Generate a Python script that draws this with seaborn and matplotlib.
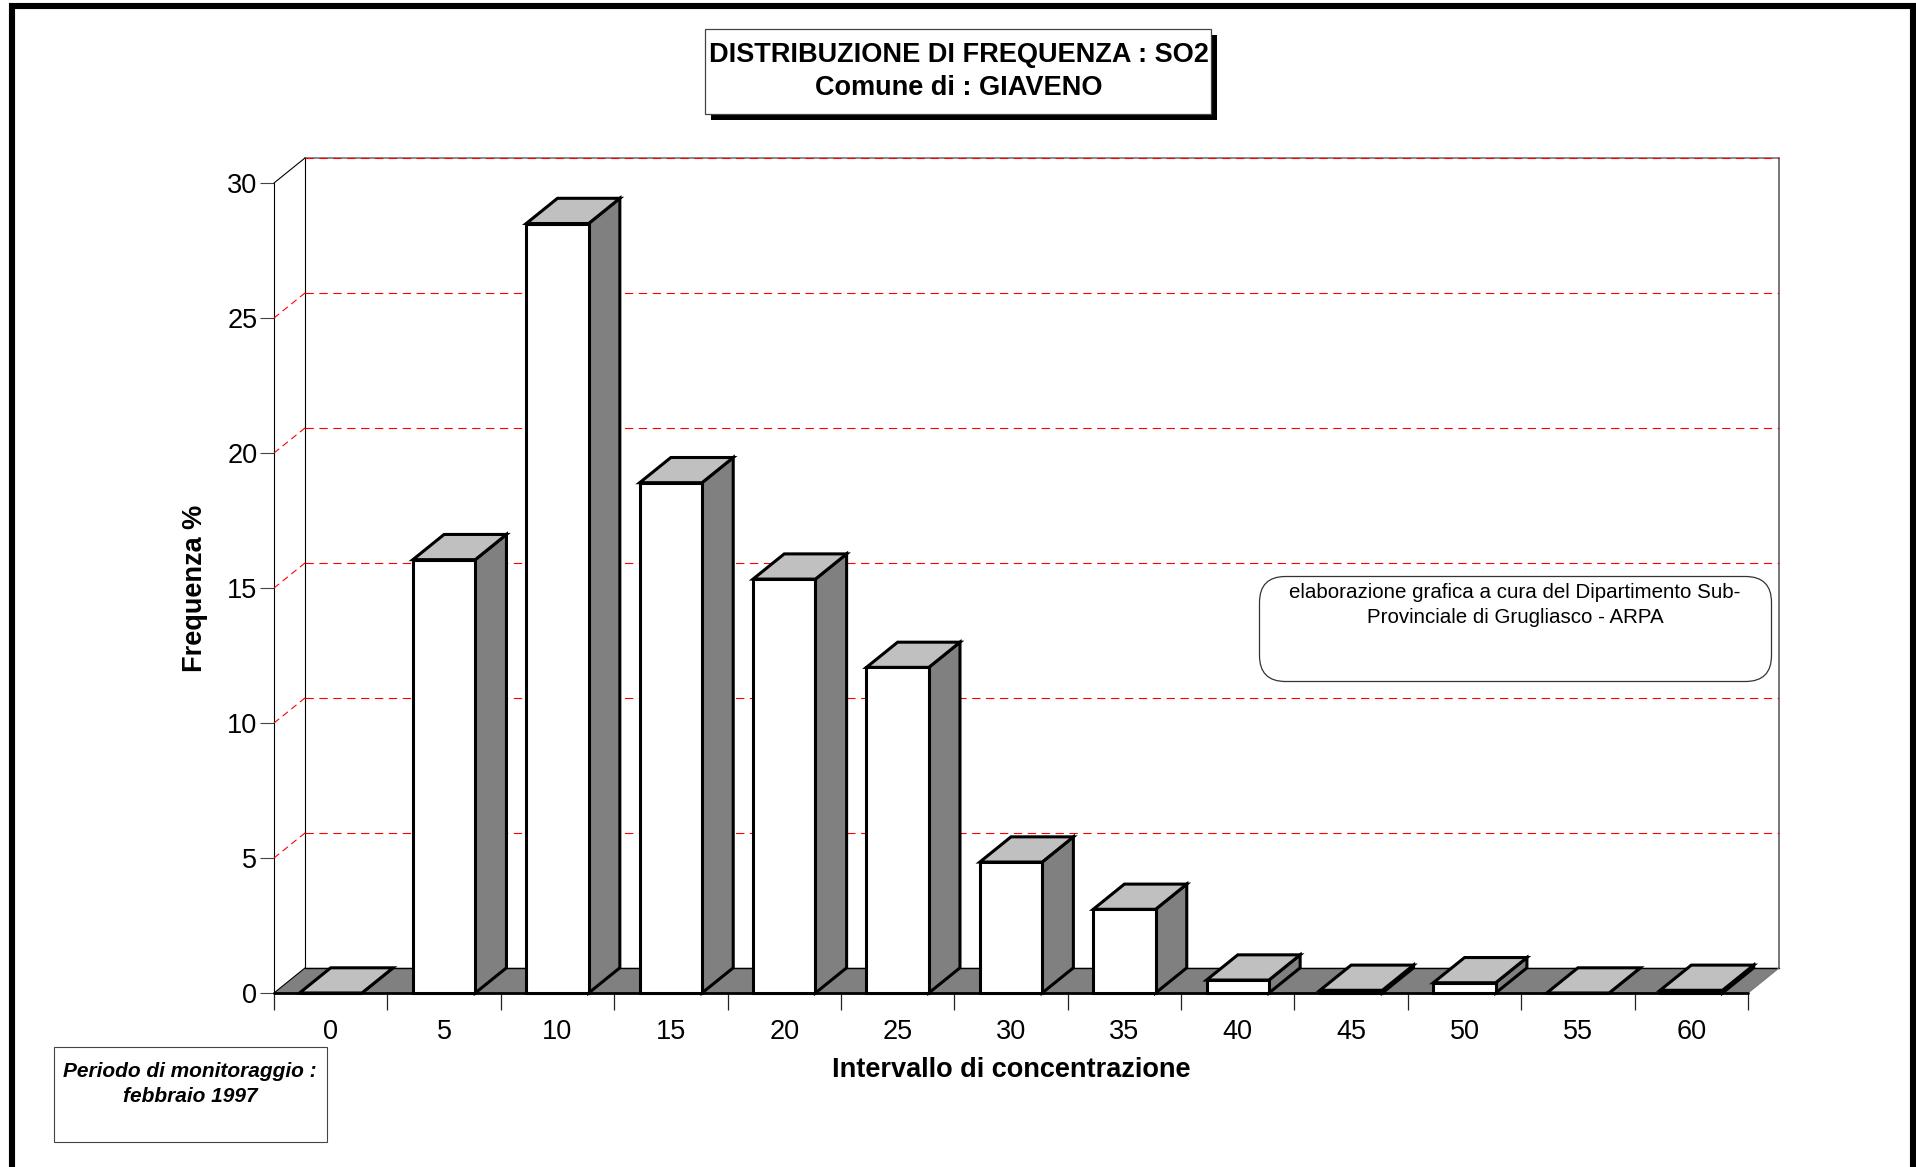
import numpy as np
import pandas as pd
import seaborn as sns
import matplotlib
matplotlib.use("Agg")
import matplotlib.pyplot as plt
from matplotlib.patches import Rectangle, FancyBboxPatch
from matplotlib.transforms import IdentityTransform

# ---- data
intervals = ["0", "5", "10", "15", "20", "25", "30", "35", "40", "45", "50", "55", "60"]
frequency = [0.0, 16.05, 28.5, 18.9, 15.33, 12.06, 4.85, 3.1, 0.48, 0.1, 0.38, 0.0, 0.1]
y_ticks = [0, 5, 10, 15, 20, 25, 30]
title_lines = "DISTRIBUZIONE DI FREQUENZA : SO2\nComune di : GIAVENO"
note_text = "elaborazione grafica a cura del Dipartimento Sub-\nProvinciale di Grugliasco - ARPA"
period_text = "Periodo di monitoraggio :\nfebbraio 1997"

# ---- style / layout
W, H = 1916, 1167
AX_L, AX_R, AX_T, AX_B = 274, 1748, 183, 993
DEPTH_PX = (31.2, 25.2)
sns.set_theme(style="white")
plt.rcParams["font.family"] = ["Liberation Sans", "DejaVu Sans"]
plt.rcParams["text.color"] = "black"
plt.rcParams["axes.labelcolor"] = "black"

fig = plt.figure(figsize=(W / 100, H / 100), dpi=100, facecolor="white")
ax = fig.add_axes([AX_L / W, 1 - AX_B / H, (AX_R - AX_L) / W, (AX_B - AX_T) / H])
ax.patch.set_alpha(0)

df = pd.DataFrame({"interval": intervals, "freq": frequency})
sns.barplot(data=df, x="interval", y="freq", order=intervals, color="white", saturation=1,
            width=0.55, edgecolor="black", linewidth=2.2, ax=ax, zorder=6, clip_on=False)
bars = list(ax.patches)
ax.set_xlim(-0.5, len(intervals) - 0.5)
ax.set_ylim(0, 30)
DX = DEPTH_PX[0] / ((AX_R - AX_L) / len(intervals))
DY = DEPTH_PX[1] / ((AX_B - AX_T) / 30)
x0, x1 = -0.5, len(intervals) - 0.5

# floor
ax.fill([x0, x1, x1 + DX, x0 + DX], [0, 0, DY, DY], color="#808080", lw=0, zorder=1, clip_on=False)
# walls
ax.plot([x0 + DX, x1 + DX], [30 + DY, 30 + DY], color="#777777", lw=1.2, zorder=2, clip_on=False)
ax.plot([x1 + DX, x1 + DX], [DY, 30 + DY], color="#777777", lw=1.4, zorder=2, clip_on=False)
ax.plot([x0 + DX, x0 + DX], [DY, 30 + DY], color="black", lw=0.8, zorder=2, clip_on=False)
ax.plot([x0, x0], [0, 30], color="black", lw=0.8, zorder=2, clip_on=False)
ax.plot([x0, x0 + DX], [30, 30 + DY], color="black", lw=0.8, zorder=2, clip_on=False)
ax.plot([x0 + DX, x1 + DX], [DY, DY], color="black", lw=1.0, zorder=2, clip_on=False)
ax.plot([x1, x1 + DX], [0, DY], color="#777777", lw=0.8, zorder=2, clip_on=False)
ax.plot([x0, x0 + DX], [0, DY], color="black", lw=0.8, zorder=2, clip_on=False)

# grid on the back and left walls
dash = (0, (7.5, 5))
for v in y_ticks[1:]:
    ax.plot([x0 + DX, x1 + DX], [v + DY, v + DY], color="#ff0000", lw=0.8, ls=dash, zorder=3, clip_on=False)
    if v < 30:
        ax.plot([x0, x0 + DX], [v, v + DY], color="#ff0000", lw=0.8, ls=(0, (6, 4)), zorder=3, clip_on=False)

# 3-D faces of the bars, derived from seaborn's own bars
for bar in bars:
    bx, bw, h = bar.get_x(), bar.get_width(), bar.get_height()
    bar.set_joinstyle("miter")
    ax.fill([bx + bw, bx + bw + DX, bx + bw + DX, bx + bw], [0, DY, h + DY, h], facecolor="#808080",
            edgecolor="black", lw=2.2, zorder=5, clip_on=False, joinstyle="miter")
    ax.fill([bx, bx + bw, bx + bw + DX, bx + DX], [h, h, h + DY, h + DY], facecolor="#c0c0c0",
            edgecolor="black", lw=2.2, zorder=5, clip_on=False, joinstyle="miter")

# axes
for s in ax.spines.values():
    s.set_visible(False)
ax.plot([x0, x1], [0, 0], color="black", lw=2.0, zorder=4, clip_on=False)
ax.set_yticks(y_ticks)
ax.set_yticklabels([str(v) for v in y_ticks], fontsize=19.5)
ax.set_xticks(range(len(intervals)))
ax.set_xticklabels(intervals, fontsize=19.5)
ax.set_xticks(np.arange(x0, x1 + 1), minor=True)
ax.tick_params(axis="x", which="major", length=0, pad=18.5, colors="black")
ax.tick_params(axis="x", which="minor", length=12, width=0.9, color="#222222", bottom=True)
ax.tick_params(axis="y", which="major", length=10, width=0.8, color="#444444", pad=2, left=True, colors="black")
ax.set_xlabel("Intervallo di concentrazione", fontsize=19.5, fontweight="bold", labelpad=9)
ax.set_ylabel("Frequenza %", fontsize=19.5, fontweight="bold", labelpad=13.5)
ax.grid(False)

# ---- page furniture, in pixels
ident = IdentityTransform()
def rect(l, t, r, b, **kw):
    fig.add_artist(Rectangle((l, H - b), r - l, b - t, transform=ident, **kw))

# outer frame
rect(11.5, 6, 1912.5, H + 40, facecolor="none", edgecolor="black", lw=4.4, zorder=0)

# title box
rect(711, 35, 1217, 119.5, facecolor="black", edgecolor="black", lw=0, zorder=7)
rect(704.5, 28.5, 1210.5, 113.5, facecolor="white", edgecolor="#444444", lw=0.9, zorder=8)
fig.text(958.5, H - 71.5, title_lines, transform=ident, ha="center", va="center", fontsize=19.5,
         fontweight="bold", linespacing=1.37, zorder=9)

# period box
rect(53.5, 1046.5, 326.5, 1141.5, facecolor="white", edgecolor="#444444", lw=0.8, zorder=8)
fig.text(190, H - 1084, period_text, transform=ident, ha="center", va="center", fontsize=15,
         fontweight="bold", fontstyle="italic", linespacing=1.38, zorder=9)

# note box
fig.add_artist(FancyBboxPatch((1259.5, H - 681.5), 512, 105, boxstyle="round,pad=0,rounding_size=26",
                              transform=ident, facecolor="white", edgecolor="#333333", lw=0.9, zorder=8))
fig.text(1515, H - 605, note_text, transform=ident, ha="center", va="center", fontsize=14.8,
         linespacing=1.42, zorder=9)

fig.savefig("out.png", dpi=100, facecolor="white")
